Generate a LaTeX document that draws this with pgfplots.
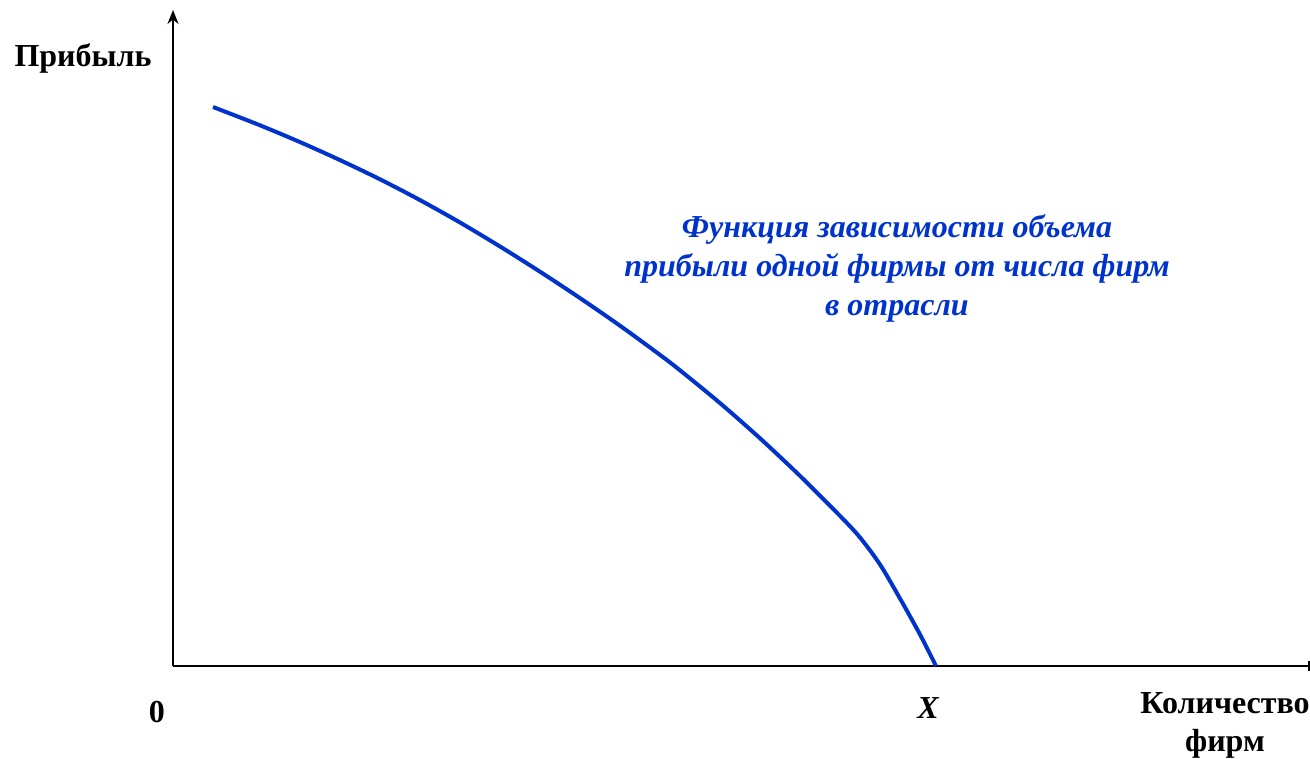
\documentclass[border=0pt]{standalone}
\usepackage{pgfplots}
\pgfplotsset{compat=1.18}
\usepackage{fontspec}
\setmainfont{Liberation Serif}
\usetikzlibrary{arrows.meta}
\definecolor{curveblue}{RGB}{0,51,204}

\begin{document}
\begin{tikzpicture}
\begin{axis}[
    x=0.5pt, y=0.5pt,
    xmin=0, xmax=1137,
    ymin=0, ymax=656,
    axis lines=left,
    x axis line style={line width=1pt, -{Bar[width=5pt,line width=1pt]}},
    y axis line style={line width=1pt, -{Stealth[length=7pt,width=5.5pt]}},
    xtick=\empty, ytick=\empty,
    clip=false,
]
    % прибыль одной фирмы
    \addplot[curveblue, line width=2pt, smooth] coordinates {
        (40,559) (87,540.7) (127,523.9) (167,505.9) (207,486.7) (247,465.9)
        (287,443.5) (327,419.5) (367,394.3) (407,367.9) (447,340.3) (487,311.1)
        (507,295.7) (547,262.9) (587,227.7) (627,190.1) (667,150.1) (687,128.5)
        (707,101.5) (727,67.5) (747,31.5) (763,0)
    };

    \node[anchor=base, font=\fontsize{16}{18}\selectfont\bfseries] at (axis cs:-90,599) {Прибыль};
    \node[anchor=base, font=\fontsize{16}{18}\selectfont\bfseries] at (axis cs:-16,-56) {0};
    \node[anchor=base, font=\fontsize{16}{18}\selectfont\bfseries\itshape] at (axis cs:755,-52) {X};
    \node[align=center, font=\fontsize{16}{19}\selectfont\bfseries] at (axis cs:1052,-59) {Количество\\фирм};
    \node[align=center, text=curveblue, font=\fontsize{16}{19.5}\selectfont\bfseries\itshape] at (axis cs:724,398)
        {Функция зависимости объема\\прибыли одной фирмы от числа фирм\\в отрасли};

    \coordinate (bl) at (axis cs:-173,-93);
    \coordinate (tr) at (axis cs:1137,666);
\end{axis}
\pgfresetboundingbox
\path[use as bounding box] (bl) rectangle (tr);
\end{tikzpicture}
\end{document}
